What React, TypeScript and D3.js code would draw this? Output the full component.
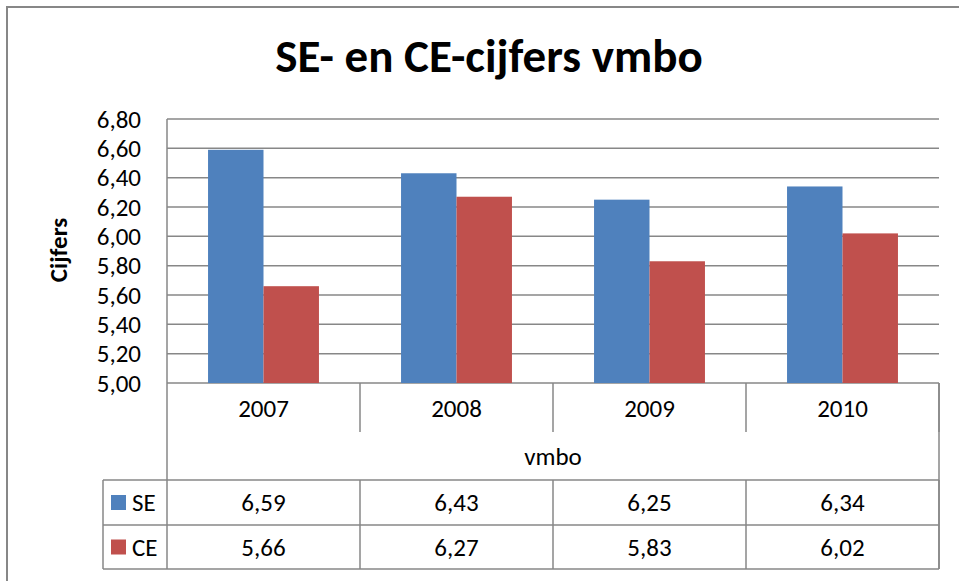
import React from 'react';
import * as d3 from 'd3';

const years = ['2007', '2008', '2009', '2010'];
const seValues = [6.59, 6.43, 6.25, 6.34];
const ceValues = [5.66, 6.27, 5.83, 6.02];
const seriesNames = ['SE', 'CE'];
const yTicks = [5.0, 5.2, 5.4, 5.6, 5.8, 6.0, 6.2, 6.4, 6.6, 6.8];

const colors: Record<string, string> = { SE: '#4F81BD', CE: '#C0504D' };
const lineColor = '#878787';
const font = 'Carlito, Lato, "Open Sans", sans-serif';
const labelSize = 25;

const fmt = (v: number) => v.toFixed(2).replace('.', ',');

const App = () => {
  const width = 959;
  const height = 581;
  const left = 167;
  const right = 939;
  const top = 119;
  const bottom = 383;
  const headerBottom = 432;
  const vmboBottom = 480;
  const seBottom = 525;
  const ceBottom = 569;
  const legendLeft = 103;

  const x = d3.scaleBand().domain(years).range([left, right]).paddingInner(0).paddingOuter(0);
  const inner = d3.scaleBand().domain(seriesNames).range([0, x.bandwidth()]).paddingInner(0).paddingOuter(0.74);
  const y = d3.scaleLinear().domain([5.0, 6.8]).range([bottom, top]);

  const rows = [
    { name: 'SE', values: seValues, y0: vmboBottom, y1: seBottom },
    { name: 'CE', values: ceValues, y0: seBottom, y1: ceBottom },
  ];

  return (
    <svg width={width} height={height} style={{ position: 'absolute', left: 0, top: 0, background: '#fff' }} fontFamily={font}>
      {/* chart border */}
      <path d={`M7,${height} V7 H${width}`} fill="none" stroke={lineColor} strokeWidth={2} />

      <text x={489} y={72} textAnchor="middle" fontSize={47} fontWeight="bold">SE- en CE-cijfers vmbo</text>

      {/* gridlines */}
      {yTicks.map(t => (
        <line key={t} x1={left} x2={right} y1={y(t)} y2={y(t)} stroke={lineColor} strokeWidth={1.5} />
      ))}
      <line x1={left} x2={left} y1={top} y2={ceBottom} stroke={lineColor} strokeWidth={1.5} />
      {yTicks.map(t => (
        <text key={t} x={141} y={y(t)} dy="0.35em" textAnchor="end" fontSize={labelSize}>{fmt(t)}</text>
      ))}
      <text transform={`translate(58,250) rotate(-90)`} dy="0.35em" textAnchor="middle" fontSize={labelSize} fontWeight="bold">Cijfers</text>

      {/* bars */}
      {years.map((yr, i) => (
        <g key={yr} transform={`translate(${x(yr)},0)`}>
          {rows.map(r => (
            <rect key={r.name} x={inner(r.name)} width={inner.bandwidth()} y={y(r.values[i])}
              height={bottom - y(r.values[i])} fill={colors[r.name]} />
          ))}
        </g>
      ))}

      {/* data table */}
      {years.map(yr => (
        <g key={yr}>
          <line x1={x(yr)! + x.bandwidth()} x2={x(yr)! + x.bandwidth()} y1={bottom} y2={headerBottom} stroke={lineColor} strokeWidth={1.5} />
          <text x={x(yr)! + x.bandwidth() / 2} y={408} dy="0.35em" textAnchor="middle" fontSize={labelSize}>{yr}</text>
        </g>
      ))}
      <line x1={right} x2={right} y1={bottom} y2={ceBottom} stroke={lineColor} strokeWidth={1.5} />
      <text x={(left + right) / 2} y={456} dy="0.35em" textAnchor="middle" fontSize={labelSize}>vmbo</text>
      {[vmboBottom, seBottom, ceBottom].map(yy => (
        <line key={yy} x1={legendLeft} x2={right} y1={yy} y2={yy} stroke={lineColor} strokeWidth={1.5} />
      ))}
      <line x1={legendLeft} x2={legendLeft} y1={vmboBottom} y2={ceBottom} stroke={lineColor} strokeWidth={1.5} />
      {rows.map(r => (
        <g key={r.name}>
          <rect x={111} y={(r.y0 + r.y1) / 2 - 7.5} width={15} height={15} fill={colors[r.name]} />
          <text x={132} y={(r.y0 + r.y1) / 2} dy="0.35em" fontSize={labelSize}>{r.name}</text>
          {years.map((yr, i) => (
            <g key={yr}>
              <line x1={x(yr)! + x.bandwidth()} x2={x(yr)! + x.bandwidth()} y1={r.y0} y2={r.y1} stroke={lineColor} strokeWidth={1.5} />
              <text x={x(yr)! + x.bandwidth() / 2} y={(r.y0 + r.y1) / 2} dy="0.35em" textAnchor="middle" fontSize={labelSize}>{fmt(r.values[i])}</text>
            </g>
          ))}
        </g>
      ))}
    </svg>
  );
};

export default App;
